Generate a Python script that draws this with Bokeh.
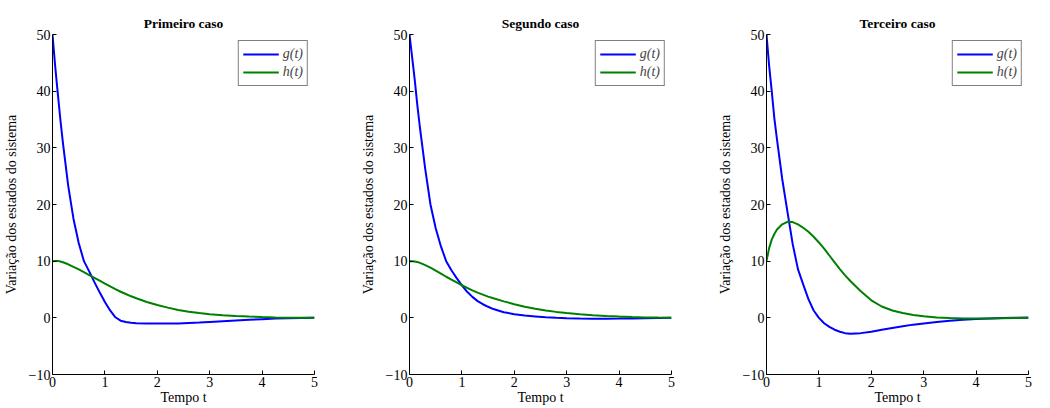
from bokeh.plotting import figure
from bokeh.layouts import row
from bokeh.models import FixedTicker, Range1d
from bokeh.embed import file_html
from bokeh.resources import INLINE

titles = ["Primeiro caso", "Segundo caso", "Terceiro caso"]
y_label = "Variação dos estados do sistema"
x_label = "Tempo t"
legend_labels = ["g(t)", "h(t)"]
x_ticks = [0, 1, 2, 3, 4, 5]
y_ticks = [-10, 0, 10, 20, 30, 40, 50]

t = [0, 0.05, 0.1, 0.15, 0.2, 0.3, 0.4, 0.5, 0.6, 0.7, 0.8, 0.9, 1.0, 1.1, 1.2, 1.3,
     1.4, 1.5, 1.6, 1.8, 2.0, 2.2, 2.4, 2.6, 2.8, 3.0, 3.25, 3.5, 3.75, 4.0, 4.25,
     4.5, 4.75, 5.0]

g1 = [50, 44.5, 39.7, 35.0, 30.8, 23.3, 17.5, 13.2, 10.0, 8.2, 6.3, 4.5, 2.8, 1.3,
      0.1, -0.5, -0.72, -0.86, -0.95, -1.0, -1.0, -1.0, -0.98, -0.9, -0.82, -0.72,
      -0.6, -0.48, -0.36, -0.24, -0.12, -0.06, -0.03, 0.0]
h1 = [10, 10.05, 10.05, 9.95, 9.8, 9.45, 9.0, 8.55, 8.05, 7.55, 7.05, 6.55, 6.05,
      5.55, 5.05, 4.6, 4.2, 3.8, 3.45, 2.8, 2.25, 1.8, 1.4, 1.08, 0.85, 0.65, 0.47,
      0.33, 0.22, 0.13, 0.07, 0.03, 0.01, 0.0]

g2 = [50, 46.0, 42.0, 37.5, 33.5, 26.3, 20.0, 15.8, 12.6, 10.0, 8.4, 7.0, 5.75,
      4.6, 3.7, 2.95, 2.4, 1.95, 1.55, 1.0, 0.65, 0.4, 0.25, 0.1, 0.0, -0.08, -0.12,
      -0.14, -0.14, -0.13, -0.1, -0.07, -0.03, 0.0]
h2 = [10, 10.0, 9.95, 9.85, 9.7, 9.3, 8.85, 8.35, 7.8, 7.25, 6.75, 6.25, 5.75, 5.3,
      4.85, 4.45, 4.1, 3.75, 3.45, 2.9, 2.4, 1.95, 1.6, 1.3, 1.05, 0.85, 0.63, 0.45,
      0.32, 0.22, 0.14, 0.08, 0.04, 0.02]

g3 = [50, 44.5, 40.0, 35.2, 31.5, 24.5, 18.7, 13.0, 8.6, 5.9, 3.3, 1.3, 0.0, -0.95,
      -1.6, -2.1, -2.45, -2.7, -2.8, -2.7, -2.45, -2.1, -1.8, -1.5, -1.2, -0.98,
      -0.74, -0.52, -0.35, -0.2, -0.1, -0.03, 0.02, 0.05]
h3 = [10, 12.3, 13.8, 14.8, 15.6, 16.5, 16.95, 16.9, 16.5, 15.9, 15.2, 14.3, 13.3,
      12.2, 11.0, 9.8, 8.6, 7.5, 6.5, 4.7, 3.1, 2.0, 1.3, 0.85, 0.5, 0.28, 0.08,
      -0.05, -0.1, -0.12, -0.1, -0.07, -0.05, -0.04]

series = [(g1, h1), (g2, h2), (g3, h3)]
colors = ["#0000ff", "#008000"]

FONT = "'Liberation Serif', serif"
widths = [357, 357, 320]
figs = []
for i, (g, h) in enumerate(series):
    p = figure(width=widths[i], height=408, output_backend="svg", toolbar_location=None,
               x_range=Range1d(0, 5), y_range=Range1d(-10, 50),
               min_border_left=44, min_border_right=widths[i] - 44 - 270,
               min_border_top=34, min_border_bottom=34)
    p.title.text = titles[i]
    p.title.align = "center"
    p.title.text_font = FONT
    p.title.text_font_size = "13.5px"
    p.title.text_font_style = "bold"
    p.title.text_color = "black"
    p.title.standoff = 7
    p.outline_line_color = None
    p.grid.visible = False
    p.background_fill_color = "white"
    p.border_fill_color = "white"
    for ax in (p.xaxis[0], p.yaxis[0]):
        ax.axis_line_color = "black"
        ax.axis_line_width = 1
        ax.major_tick_in = 4
        ax.major_tick_out = 0
        ax.minor_tick_line_color = None
        ax.major_label_text_font = FONT
        ax.major_label_text_font_size = "14px"
        ax.major_label_text_color = "black"
        ax.axis_label_text_font = FONT
        ax.axis_label_text_font_size = "14px"
        ax.axis_label_text_font_style = "normal"
        ax.axis_label_text_color = "black"
        ax.major_label_standoff = 2
    p.xaxis.ticker = FixedTicker(ticks=x_ticks)
    p.yaxis.ticker = FixedTicker(ticks=y_ticks)
    p.xaxis.axis_label = x_label
    p.yaxis.axis_label = y_label
    p.xaxis.axis_label_standoff = 0
    p.yaxis.axis_label_standoff = 7
    p.line(t, g, line_color=colors[0], line_width=2, legend_label=legend_labels[0])
    p.line(t, h, line_color=colors[1], line_width=2, legend_label=legend_labels[1])
    lg = p.legend[0]
    lg.location = "top_right"
    lg.margin = 6
    lg.padding = 4
    lg.spacing = 0
    lg.label_height = 18
    lg.glyph_height = 18
    lg.glyph_width = 36
    lg.label_standoff = 4
    lg.label_text_font = FONT
    lg.label_text_font_size = "14px"
    lg.label_text_font_style = "italic"
    lg.border_line_color = "black"
    lg.border_line_width = 1.5
    lg.background_fill_alpha = 1
    figs.append(p)

layout = row(*figs, spacing=0)
open("out.html", "w").write(file_html(layout, INLINE))
